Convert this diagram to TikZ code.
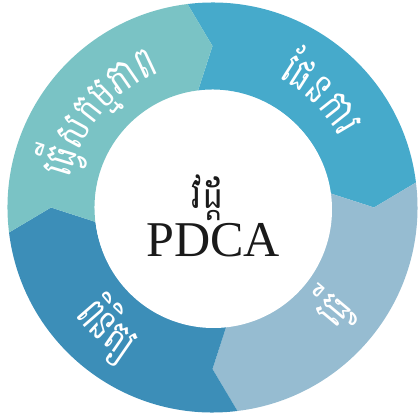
\documentclass[tikz,border=0pt]{standalone}
\usepackage{fontspec}
\setmainfont{Liberation Serif}
\newfontfamily\khmer[Script=Khmer,FakeStretch=0.82]{Battambang}
\newfontfamily\khmerseg[Script=Khmer,FakeStretch=0.74]{Battambang}
\usetikzlibrary{positioning}

\definecolor{actcol}{HTML}{7AC3C5}
\definecolor{plancol}{HTML}{46AACB}
\definecolor{docol}{HTML}{96BCD1}
\definecolor{checkcol}{HTML}{3C8EB8}
\definecolor{inkcol}{HTML}{1A1A1A}

\newcommand\seglabelfont{\fontsize{25}{30}\selectfont\khmerseg}
\newlength\khwd
% width of one cluster, measured outside the picture's null font
\newcommand\khmeasure[1]{%
  \pgfinterruptpicture\settowidth\khwd{\seglabelfont#1}\global\khwd=\khwd\endpgfinterruptpicture}
% clusters set one by one along an arc: #1 mid angle, #2 radius (cm), #3 -1 clockwise / +1 counter-clockwise, #4 clusters
\newcommand\arcword[4]{%
  \gdef\khtot{0}%
  \foreach \kcl in {#4}{%
    \khmeasure{\kcl}%
    \pgfmathsetmacro\khtmp{\khtot+\khwd}%
    \global\let\khtot\khtmp}%
  \gdef\khacc{0}%
  \foreach \kcl in {#4}{%
    \khmeasure{\kcl}%
    \pgfmathsetmacro\kang{#1+#3*deg((-\khtot/2+\khacc+\khwd/2)/(#2*28.45274))}%
    \pgfmathsetmacro\krot{\kang+#3*90}%
    \node[seglabel,rotate=\krot] at (\kang:#2) {\kcl};
    \pgfmathsetmacro\khtmp{\khacc+\khwd}%
    \global\let\khacc\khtmp}%
}

\tikzset{
  seglabel/.style={text=white, inner sep=0pt, anchor=base, font=\seglabelfont},
  centrelabel/.style={text=inkcol, inner sep=0pt, anchor=base}
}

\begin{document}
\begin{tikzpicture}
\useasboundingbox (-4.25,-4.13) rectangle (4.11,4.15);
\def\Rout{4.1}
\def\Rin{2.36}
\def\Rmid{3.23}

% four arrow segments, clockwise
\foreach \s/\col in {97/plancol, 7/docol, -83/checkcol, 187/actcol}{
  \fill[\col] (\s:\Rout) arc[start angle=\s, end angle=\s-90, radius=\Rout]
    -- (\s-97:\Rmid) -- (\s-90:\Rin)
    arc[start angle=\s-90, end angle=\s, radius=\Rin]
    -- (\s-7:\Rmid) -- cycle;
}

% hub
\fill[white] (0.02,-0.04) circle (2.37);
\node[centrelabel, font=\fontsize{25}{30}\selectfont\khmer] (hubkh) at (-0.09,-0.03) {វដ្ដ};
\node[centrelabel, font=\fontsize{28.5}{30}\selectfont] (hubpdca) at (0.01,-0.99) {PDCA};

% segment labels
\arcword{46}{2.9}{-1}{ផែ,ន,កា,រ}
\arcword{140}{2.9}{-1}{ធ្វើ,ស,ក,ម្ម,ភា,ព}
\arcword{-131}{3.5}{1}{ពិ,និ,ត្យ}
\arcword{-40}{3.45}{1}{ធ្វើ}
\end{tikzpicture}
\end{document}
